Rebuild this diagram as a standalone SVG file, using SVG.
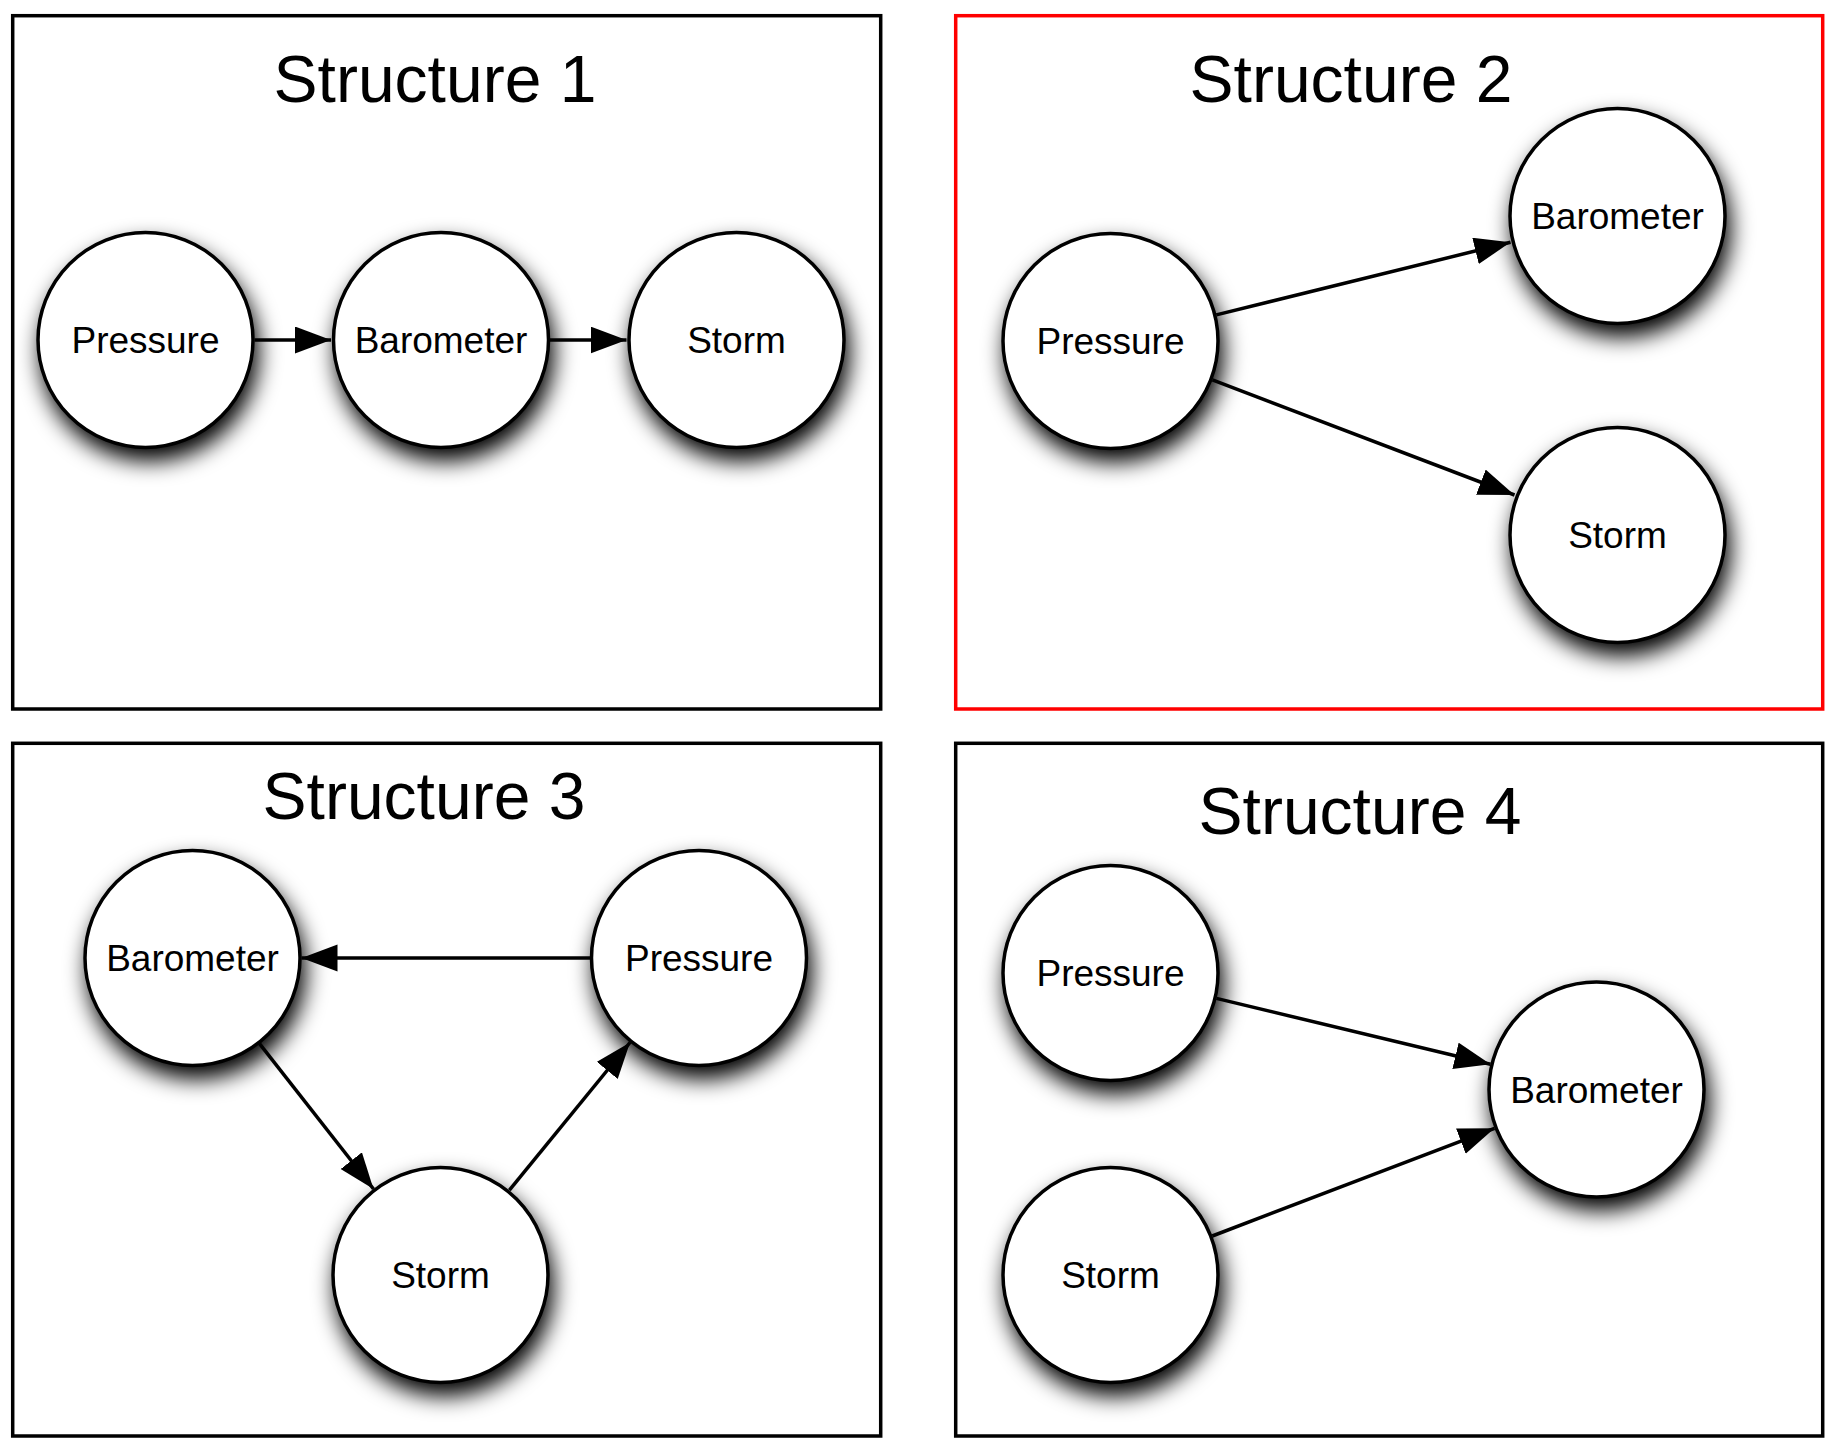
<svg xmlns="http://www.w3.org/2000/svg" width="1827" height="1446" viewBox="0 0 1827 1446">
<defs>
<filter id="sh" x="-35%" y="-35%" width="170%" height="180%">
<feGaussianBlur in="SourceAlpha" stdDeviation="11"/>
<feOffset dx="4" dy="12" result="b"/>
<feComponentTransfer><feFuncA type="linear" slope="1"/></feComponentTransfer>
<feMerge><feMergeNode/><feMergeNode in="SourceGraphic"/></feMerge>
</filter>
<marker id="ah" markerUnits="userSpaceOnUse" markerWidth="38" markerHeight="28" refX="36" refY="13.5" orient="auto">
<path d="M0,0 L36,13.5 L0,27 z" fill="#000"/>
</marker>
</defs>
<style>
.panel{fill:#fff;stroke:#000;stroke-width:3.5}
.red{stroke:#f00}
.title{font-family:"Liberation Sans",Arial,sans-serif;font-size:66px;text-anchor:middle;fill:#000}
.node circle{fill:#fff;stroke:#000;stroke-width:3.5;filter:url(#sh)}
.node text{font-family:"Liberation Sans",Arial,sans-serif;font-size:37px;text-anchor:middle;fill:#000}
.edge{stroke:#000;stroke-width:3.5;fill:none;marker-end:url(#ah)}
</style>
<rect width="1827" height="1446" fill="#fff"/>
<g id="panels">
<rect class="panel" x="12.7" y="15.7" width="868" height="693.3"/>
<rect class="panel red" x="955.7" y="15.7" width="867" height="693.3"/>
<rect class="panel" x="12.7" y="743.3" width="868" height="692.7"/>
<rect class="panel" x="955.7" y="743.3" width="867" height="692.7"/>
</g>
<g id="titles">
<text class="title" x="435" y="102">Structure 1</text>
<text class="title" x="1351" y="102">Structure 2</text>
<text class="title" x="424" y="819">Structure 3</text>
<text class="title" x="1360" y="834">Structure 4</text>
</g>
<g id="n1-pressure" class="node"><circle cx="145.5" cy="340" r="107.5"/><text x="145.5" y="353">Pressure</text></g>
<g id="n1-barometer" class="node"><circle cx="441" cy="340" r="107.5"/><text x="441" y="353">Barometer</text></g>
<g id="n1-storm" class="node"><circle cx="736.5" cy="340" r="107.5"/><text x="736.5" y="353">Storm</text></g>
<g id="n2-pressure" class="node"><circle cx="1110.5" cy="341" r="107.5"/><text x="1110.5" y="354">Pressure</text></g>
<g id="n2-barometer" class="node"><circle cx="1617.5" cy="216" r="107.5"/><text x="1617.5" y="229">Barometer</text></g>
<g id="n2-storm" class="node"><circle cx="1617.5" cy="535" r="107.5"/><text x="1617.5" y="548">Storm</text></g>
<g id="n3-barometer" class="node"><circle cx="192.5" cy="958" r="107.5"/><text x="192.5" y="971">Barometer</text></g>
<g id="n3-pressure" class="node"><circle cx="699" cy="958" r="107.5"/><text x="699" y="971">Pressure</text></g>
<g id="n3-storm" class="node"><circle cx="440.5" cy="1275" r="107.5"/><text x="440.5" y="1288">Storm</text></g>
<g id="n4-pressure" class="node"><circle cx="1110.5" cy="973" r="107.5"/><text x="1110.5" y="986">Pressure</text></g>
<g id="n4-barometer" class="node"><circle cx="1596.5" cy="1089.5" r="107.5"/><text x="1596.5" y="1102.5">Barometer</text></g>
<g id="n4-storm" class="node"><circle cx="1110.5" cy="1275" r="107.5"/><text x="1110.5" y="1288">Storm</text></g>
<g id="connectors">
<line class="edge" x1="254.5" y1="340" x2="331" y2="340"/>
<line class="edge" x1="550" y1="340" x2="626.5" y2="340"/>
<line class="edge" x1="1216.3" y1="314.9" x2="1510.5" y2="242.3"/>
<line class="edge" x1="1212.4" y1="379.8" x2="1514.5" y2="495"/>
<line class="edge" x1="590" y1="958" x2="301.5" y2="958"/>
<line class="edge" x1="259.5" y1="1043.6" x2="373.5" y2="1189"/>
<line class="edge" x1="509.4" y1="1190.2" x2="630" y2="1042.5"/>
<line class="edge" x1="1216.4" y1="998.4" x2="1490.5" y2="1064.2"/>
<line class="edge" x1="1212.3" y1="1236" x2="1494.5" y2="1128.3"/>
</g>
</svg>
